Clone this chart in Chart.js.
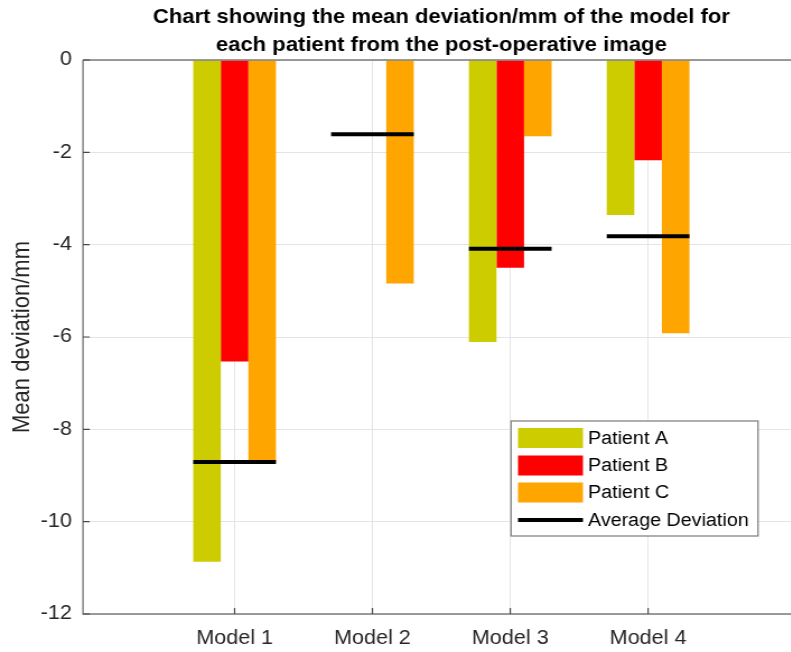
<!DOCTYPE html>
<html>
<head>
<meta charset="utf-8">
<script src="https://cdn.jsdelivr.net/npm/chart.js@4/dist/chart.umd.min.js"></script>
<style>
  html, body { margin: 0; padding: 0; background: #ffffff; overflow: hidden; }
  /* the figure is laid out narrow and widened horizontally */
  #wrap { position: absolute; left: 0; top: 0; width: 714px; height: 652px;
          transform: scaleX(1.12); transform-origin: 0 0; }
  canvas { display: block; }
</style>
</head>
<body>
<div id="wrap"><canvas id="chart" width="714" height="652"></canvas></div>
<script>
// ---- data ----
const categories = ['Model 1', 'Model 2', 'Model 3', 'Model 4'];
const patientA = [-10.87, 0, -6.11, -3.36];
const patientB = [-6.53, 0, -4.50, -2.17];
const patientC = [-8.73, -4.84, -1.65, -5.92];
const averageDeviation = [-8.71, -1.61, -4.09, -3.82];
const seriesNames = ['Patient A', 'Patient B', 'Patient C', 'Average Deviation'];
const yTicks = [0, -2, -4, -6, -8, -10, -12];
const titleLines = ['Chart showing the mean deviation/mm of the model for',
                    'each patient from the post-operative image'];
const yTitle = 'Mean deviation/mm';

// ---- styling ----
const FONT = "'Liberation Sans', Arial, Helvetica, sans-serif";
const COLORS = ['#cccc00', '#ff0000', '#ffa500', '#000000'];
const GROUP = 0.6;          // width of a bar group in x units
const GRID = '#e4e4e4';
const AXIS = '#7c7c7c';
const TEXT = '#262626';

const barSet = (label, values, color) => ({
  type: 'bar',
  label,
  data: values.map((v, i) => ({ x: i + 1, y: v })),
  backgroundColor: color,
  borderWidth: 0,
  categoryPercentage: GROUP,
  barPercentage: 1.0,
  order: 2
});

// horizontal average segments, one per group, split by gaps
const avgPoints = [];
averageDeviation.forEach((v, i) => {
  avgPoints.push({ x: i + 1 - GROUP / 2, y: v }, { x: i + 1 + GROUP / 2, y: v }, { x: i + 1.5, y: null });
});

const frame = {
  id: 'frame',
  afterDatasetsDraw(chart) {
    const { ctx, chartArea: a, scales: { x, y } } = chart;
    ctx.save();
    ctx.strokeStyle = AXIS;
    ctx.lineWidth = 1.4;
    ctx.beginPath();
    ctx.moveTo(a.left, a.top); ctx.lineTo(a.right, a.top);
    ctx.moveTo(a.left, a.top); ctx.lineTo(a.left, a.bottom); ctx.lineTo(a.right, a.bottom);
    ctx.stroke();
    ctx.strokeStyle = '#4a4a4a';
    ctx.lineWidth = 1.2;
    ctx.beginPath();
    y.ticks.forEach(t => {
      const py = y.getPixelForValue(t.value);
      ctx.moveTo(a.left, py); ctx.lineTo(a.left + 6, py);
    });
    x.ticks.forEach(t => {
      const px = x.getPixelForValue(t.value);
      ctx.moveTo(px, a.bottom); ctx.lineTo(px, a.bottom - 6);
    });
    ctx.stroke();
    ctx.restore();
  },
  afterDraw(chart) {
    const { ctx, chartArea: a } = chart;
    ctx.save();
    // title
    ctx.fillStyle = '#000000';
    ctx.font = 'bold 19.7px ' + FONT;
    ctx.textAlign = 'center';
    ctx.textBaseline = 'alphabetic';
    const cx = (a.left + a.right) / 2;
    ctx.fillText(titleLines[0], cx, 23);
    ctx.fillText(titleLines[1], cx, 51);
    // y axis title
    ctx.fillStyle = TEXT;
    ctx.font = '22px ' + FONT;
    ctx.translate(19.6, (a.top + a.bottom) / 2);
    ctx.rotate(-Math.PI / 2);
    ctx.textBaseline = 'middle';
    ctx.fillText(yTitle, 0, 0);
    ctx.setTransform(1, 0, 0, 1, 0, 0);
    // legend
    const bx = 456.3, by = 421, bw = 220.5, bh = 115;
    ctx.fillStyle = '#ffffff';
    ctx.fillRect(bx, by, bw, bh);
    ctx.strokeStyle = '#7a7a7a';
    ctx.lineWidth = 1.2;
    ctx.strokeRect(bx, by, bw, bh);
    const rows = [438, 465.5, 492.5, 520];
    const sx = 462.5, sw = 58;
    ctx.font = '17.6px ' + FONT;
    ctx.textAlign = 'left';
    ctx.textBaseline = 'middle';
    seriesNames.forEach((name, i) => {
      const ry = rows[i];
      ctx.fillStyle = COLORS[i];
      if (i < 3) {
        ctx.fillRect(sx, ry - 10, sw, 20);
      } else {
        ctx.fillRect(sx, ry - 2, sw, 4);
      }
      ctx.fillStyle = '#000000';
      ctx.fillText(name, 525, ry + 1);
    });
    ctx.restore();
  }
};

new Chart(document.getElementById('chart'), {
  type: 'bar',
  data: {
    datasets: [
      barSet(seriesNames[0], patientA, COLORS[0]),
      barSet(seriesNames[1], patientB, COLORS[1]),
      barSet(seriesNames[2], patientC, COLORS[2]),
      {
        type: 'line',
        label: seriesNames[3],
        data: avgPoints,
        borderColor: COLORS[3],
        borderWidth: 4,
        pointRadius: 0,
        spanGaps: false,
        fill: false,
        order: 0
      }
    ]
  },
  options: {
    responsive: false,
    animation: false,
    devicePixelRatio: 1,
    layout: { padding: { top: 60, left: 0, right: 0, bottom: 0 } },
    plugins: { legend: { display: false }, title: { display: false }, tooltip: { enabled: false } },
    scales: {
      x: {
        type: 'linear',
        min: -0.1,
        max: 5.1,
        offset: false,
        afterBuildTicks: s => { s.ticks = categories.map((_, i) => ({ value: i + 1 })); },
        afterFit: s => { s.height = 38; },
        border: { display: false },
        grid: { color: GRID, lineWidth: 1, drawTicks: false, offset: false },
        ticks: {
          autoSkip: false, maxRotation: 0, padding: 13,
          color: TEXT, font: { family: FONT, size: 19.3 },
          callback: v => categories[v - 1]
        }
      },
      y: {
        min: -12,
        max: 0,
        afterBuildTicks: s => { s.ticks = yTicks.map(v => ({ value: v })); },
        afterFit: s => { s.width = 74.1; },
        border: { display: false },
        grid: { color: GRID, lineWidth: 1, drawTicks: false },
        ticks: { padding: 10, color: TEXT, font: { family: FONT, size: 19.3 } }
      }
    }
  },
  plugins: [frame]
});
</script>
</body>
</html>
